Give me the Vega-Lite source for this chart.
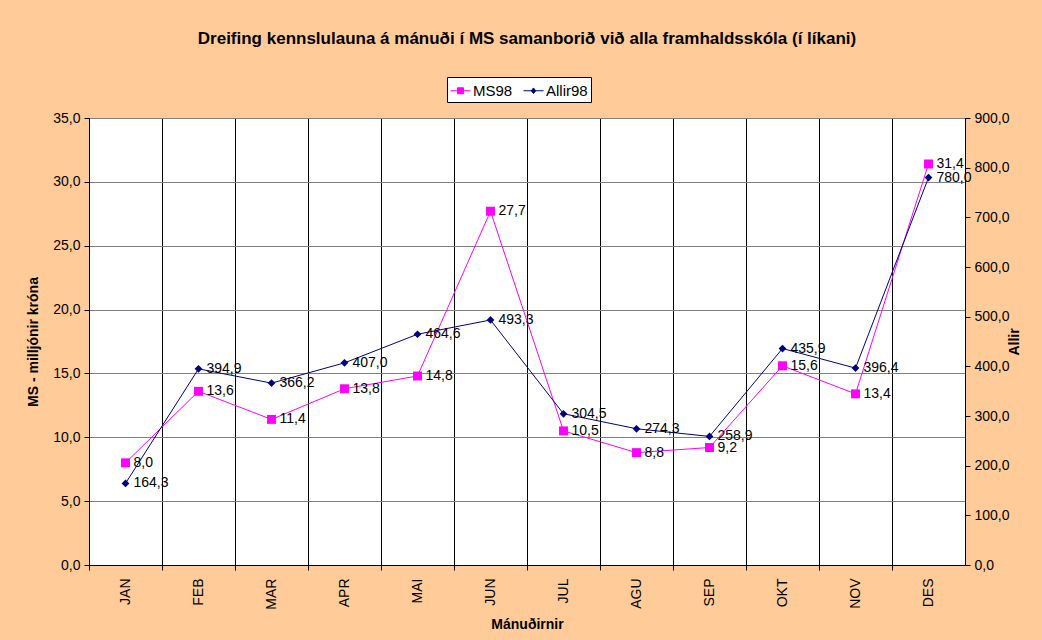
{
  "$schema": "https://vega.github.io/schema/vega-lite/v6.json",
  "autosize": {"type": "none"},
  "width": 876,
  "height": 447,
  "padding": {"left": 89, "top": 118, "right": 77, "bottom": 75},
  "background": "#FFCC99",
  "config": {
    "locale": {"number": {"decimal": ",", "thousands": ".", "grouping": [3], "currency": ["", ""]}},
    "font": "Liberation Sans",
    "view": {"fill": "white", "stroke": "black", "strokeWidth": 1},
    "axis": {"labelFont": "Liberation Sans", "titleFont": "Liberation Sans", "labelFontSize": 14, "labelColor": "black", "titleColor": "black", "domainColor": "black", "tickColor": "black"}
  },
  "title": {
    "text": "Dreifing kennslulauna á mánuði í MS samanborið við alla framhaldsskóla (í líkani)",
    "fontSize": 17,
    "fontWeight": "bold",
    "font": "Liberation Sans",
    "color": "black",
    "anchor": "middle",
    "frame": "group",
    "offset": 29
  },
  "data": {
    "values": [
      {"month": "JAN", "series": "MS98", "value": 8.0},
      {"month": "FEB", "series": "MS98", "value": 13.6},
      {"month": "MAR", "series": "MS98", "value": 11.4},
      {"month": "APR", "series": "MS98", "value": 13.8},
      {"month": "MAI", "series": "MS98", "value": 14.8},
      {"month": "JUN", "series": "MS98", "value": 27.7},
      {"month": "JUL", "series": "MS98", "value": 10.5},
      {"month": "AGU", "series": "MS98", "value": 8.8},
      {"month": "SEP", "series": "MS98", "value": 9.2},
      {"month": "OKT", "series": "MS98", "value": 15.6},
      {"month": "NOV", "series": "MS98", "value": 13.4},
      {"month": "DES", "series": "MS98", "value": 31.4},
      {"month": "JAN", "series": "Allir98", "value": 164.3},
      {"month": "FEB", "series": "Allir98", "value": 394.9},
      {"month": "MAR", "series": "Allir98", "value": 366.2},
      {"month": "APR", "series": "Allir98", "value": 407.0},
      {"month": "MAI", "series": "Allir98", "value": 464.6},
      {"month": "JUN", "series": "Allir98", "value": 493.3},
      {"month": "JUL", "series": "Allir98", "value": 304.5},
      {"month": "AGU", "series": "Allir98", "value": 274.3},
      {"month": "SEP", "series": "Allir98", "value": 258.9},
      {"month": "OKT", "series": "Allir98", "value": 435.9},
      {"month": "NOV", "series": "Allir98", "value": 396.4},
      {"month": "DES", "series": "Allir98", "value": 780.0}
    ]
  },
  "encoding": {
    "x": {
      "field": "month",
      "type": "ordinal",
      "sort": null,
      "bandPosition": 0.5,
      "scale": {"type": "band", "paddingInner": 0, "paddingOuter": 0},
      "axis": {
        "title": "Mánuðirnir",
        "titleFontSize": 14,
        "titleFontWeight": "bold",
        "titlePadding": 8,
        "labelAngle": -90,
        "labelAlign": "right",
        "labelBaseline": "middle",
        "labelPadding": 8,
        "bandPosition": 0,
        "grid": true,
        "gridColor": "black",
        "gridOpacity": 1,
        "gridWidth": 1,
        "tickSize": 5,
        "domain": true
      }
    },
    "color": {
      "field": "series",
      "type": "nominal",
      "scale": {"domain": ["MS98", "Allir98"], "range": ["#FF00FF", "#000080"]},
      "legend": {
        "title": null,
        "orient": "none",
        "direction": "horizontal",
        "legendX": 358,
        "legendY": -41,
        "fillColor": "white",
        "strokeColor": "black",
        "padding": 3,
        "labelFontSize": 15,
        "labelFont": "Liberation Sans",
        "labelColor": "black",
        "symbolSize": 400,
        "columnPadding": 8,
        "labelOffset": 2,
        "encode": {
          "symbols": {
            "update": {
              "shape": {"signal": "datum.value === 'MS98' ? 'M-1,0H1M-0.3,-0.3H0.3V0.3H-0.3Z' : 'M-1,0H1M0,-0.28L0.22,0L0,0.28L-0.22,0Z'"},
              "fill": {"signal": "datum.value === 'MS98' ? '#FF00FF' : '#000080'"},
              "stroke": {"signal": "datum.value === 'MS98' ? '#FF00FF' : '#000080'"},
              "strokeWidth": {"value": 1},
              "opacity": {"value": 1},
              "fillOpacity": {"value": 1}
            }
          }
        }
      }
    }
  },
  "layer": [
    {
      "transform": [{"filter": "datum.series === 'MS98'"}],
      "encoding": {
        "y": {
          "field": "value",
          "type": "quantitative",
          "scale": {"domain": [0, 35], "nice": false},
          "axis": {
            "title": "MS - milljónir króna",
            "titleFontSize": 14,
            "titleFontWeight": "bold",
            "titlePadding": 12,
            "format": ".1f",
            "values": [0, 5, 10, 15, 20, 25, 30, 35],
            "grid": true,
            "gridColor": "#808080",
            "gridOpacity": 1,
            "tickSize": 5,
            "labelPadding": 4
          }
        }
      },
      "layer": [
        {"mark": {"type": "line", "strokeWidth": 1}},
        {"mark": {"type": "point", "shape": "square", "filled": true, "size": 80, "opacity": 1}},
        {"mark": {"type": "text", "align": "left", "baseline": "middle", "dx": 8, "fontSize": 14, "font": "Liberation Sans", "color": "black"},
         "encoding": {"text": {"field": "value", "type": "quantitative", "format": ".1f"}, "color": {"value": "black"}}}
      ]
    },
    {
      "transform": [{"filter": "datum.series === 'Allir98'"}],
      "encoding": {
        "y": {
          "field": "value",
          "type": "quantitative",
          "scale": {"domain": [0, 900], "nice": false},
          "axis": {
            "orient": "right",
            "title": "Allir",
            "titleAngle": -90,
            "titleFontSize": 14,
            "titleFontWeight": "bold",
            "titlePadding": 12,
            "format": ".1f",
            "values": [0, 100, 200, 300, 400, 500, 600, 700, 800, 900],
            "grid": false,
            "tickSize": 5,
            "labelPadding": 4
          }
        }
      },
      "layer": [
        {"mark": {"type": "line", "strokeWidth": 1}},
        {"mark": {"type": "point", "shape": "diamond", "filled": true, "size": 60, "opacity": 1}},
        {"mark": {"type": "text", "align": "left", "baseline": "middle", "dx": 8, "fontSize": 14, "font": "Liberation Sans", "color": "black"},
         "encoding": {"text": {"field": "value", "type": "quantitative", "format": ".1f"}, "color": {"value": "black"}}}
      ]
    }
  ],
  "resolve": {"scale": {"y": "independent"}}
}
